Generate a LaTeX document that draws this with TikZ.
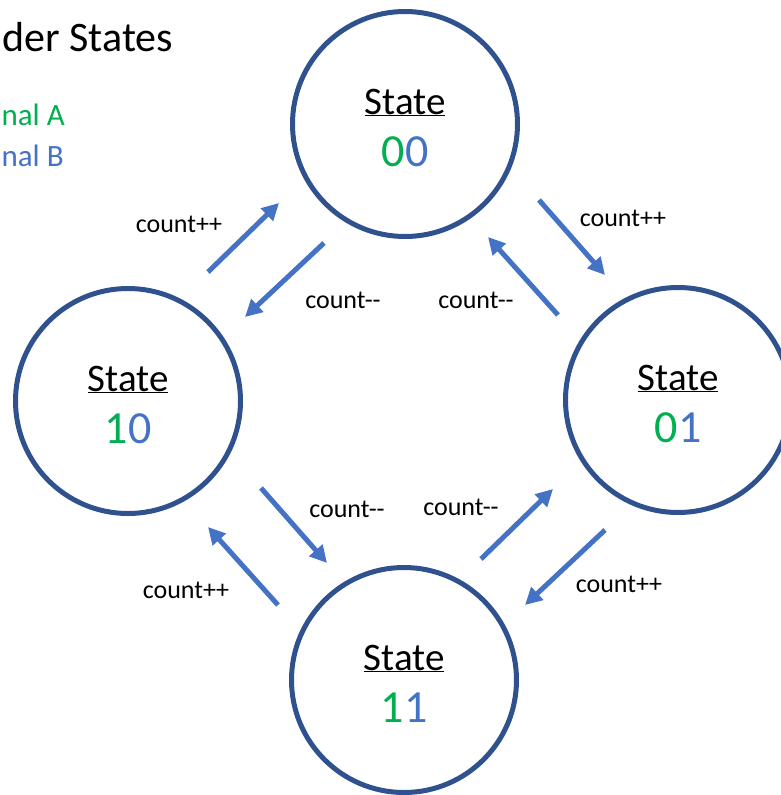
\documentclass[tikz,border=0pt]{standalone}
\usepackage{fontspec}
\setmainfont{Carlito}
\usetikzlibrary{arrows.meta,calc}

\definecolor{ringblue}{HTML}{2F528F}
\definecolor{arrowblue}{HTML}{4472C4}
\definecolor{sigA}{HTML}{00B050}
\definecolor{sigB}{HTML}{4472C4}

\tikzset{
  state/.style={circle,draw=ringblue,line width=5pt,minimum size=225pt,inner sep=0pt},
  statename/.style={anchor=base,font=\fontsize{39}{46}\selectfont},
  statebits/.style={anchor=base,font=\fontsize{46}{54}\selectfont},
  move/.style={draw=arrowblue,line width=5pt,-{Triangle[length=17pt,width=17pt]}},
  countlbl/.style={anchor=base,font=\fontsize{26}{30}\selectfont},
  keylbl/.style={anchor=base west,font=\fontsize{31}{36}\selectfont},
}

\begin{document}
\begin{tikzpicture}[x=1pt,y=-1pt]
  \useasboundingbox (0,0) rectangle (780,795);

  % heading and key, cut by the left edge
  \node[anchor=base west,font=\fontsize{42}{50}\selectfont] (title) at (-1,51) {der States};
  \node[keylbl,text=sigA] (keyA) at (-2,125) {nal A};
  \node[keylbl,text=sigB] (keyB) at (-2,166) {nal B};

  % the four states
  \node[state] (s00) at (405,124) {};
  \node[state] (s10) at (128,401) {};
  \node[state] (s01) at (678,400) {};
  \node[state] (s11) at (404,680) {};

  \foreach \s/\a/\b in {s00/0/0, s10/1/0, s01/0/1, s11/1/1}{
    \node[statename] (\s-name) at ($(\s)+(0,-10)$) {\underline{State}};
    \node[statebits] (\s-bits) at ($(\s)+(0,42)$) {\textcolor{sigA}{\a}\textcolor{sigB}{\b}};
  }

  % arrow ends
  \coordinate (m1a) at (208,272); \coordinate (m1b) at (279,203);
  \coordinate (m2a) at (324,243); \coordinate (m2b) at (245,317);
  \coordinate (m3a) at (539,200); \coordinate (m3b) at (605,275);
  \coordinate (m4a) at (558,315); \coordinate (m4b) at (488,237);
  \coordinate (m5a) at (261,488); \coordinate (m5b) at (327,563);
  \coordinate (m6a) at (278,605); \coordinate (m6b) at (208,527);
  \coordinate (m7a) at (481,559); \coordinate (m7b) at (553,489);
  \coordinate (m8a) at (605,530); \coordinate (m8b) at (525,605);

  \foreach \m in {1,...,8}
    \draw[move] (m\m a) -- (m\m b);

  \node[countlbl] (c1) at (179,232) {count++};
  \node[countlbl] (c2) at (343,308) {count-{}-};
  \node[countlbl] (c3) at (623,226) {count++};
  \node[countlbl] (c4) at (476,308) {count-{}-};
  \node[countlbl] (c5) at (347,517) {count-{}-};
  \node[countlbl] (c6) at (186,598) {count++};
  \node[countlbl] (c7) at (461,515) {count-{}-};
  \node[countlbl] (c8) at (619,592) {count++};
\end{tikzpicture}
\end{document}
